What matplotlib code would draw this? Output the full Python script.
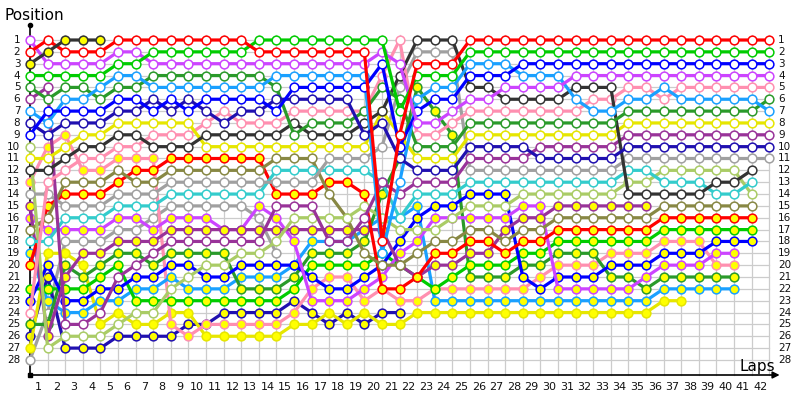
import matplotlib
matplotlib.use("Agg")
import matplotlib.pyplot as plt

# ---- data: position after each lap (lap 0 = grid) ----
red_h = [2,1,2,2,2,1,1,1,1,1,1,1,1,2,2,2,2,2,2,2,18,9,3,3,3] + [1]*18
green_h = [4,4,4,4,4,3,3,2,2,2,2,2,2,1,1,1,1,1,1,1,1,7,4,4,4] + [2]*18
violet_h = [1,3,3,3,3,2,2,3,3,3,3,3,3,3,3,3,3,3,3,3,2,3,8,8,7,6,6,5,5,5,5] + [4]*12
blue_h = [9,7,7,7,7,6,6,7,6,7,6,6,6,6,7,5,5,5,5,5,3,10,7,6,6,4,4,4] + [3]*15
navy_h = [8,9,8,8,8,7,7,6,7,6,7,8,7,7,6,6,6,6,6,9,8,11,12,12,12,10,10,10,10,11,11,11,11,11] + [10]*9
ltblue_h = [7,8,6,6,5,4,4,5,5,5,5,5,5,5,4,4,4,4,4,4,19,13,6,5,5,3,3,3,4,4,4,6,7,7,6,6,5,6,6,6,6,6,7]
dkgreen_h = [5,6,5,5,6,5,5,4,4,4,4,4,4,4,5,9,8,8,8,7,5,6,10,10,10] + [8]*9 + [7]*8 + [6]
black_h = [12,12,11,10,10,9,9,10,10,10,9,9,9,9,9,8,9,9,9,8,7,4,1,1,1,5,5,6,6,6,6,5,5,5,14,14,14,14,14,13,13,12]
yellow_h = [11,11,10,9,9,8,8,8,8,8] + [10]*10 + [7,9,11,11,11] + [9]*9 + [8]*9
pink_h = [24,13,12,11,11,10,10,9,9,9,8,7,8,8,8,7,7,7,7,7,4,1,9,9,8] + [7]*7 + [6,6,5,5,6] + [5]*6
purple_h = [6,5,25,25,24,21,20,19,18,18,18,18,18,18,15,15,15,18,18,16,13,14,13,13,13,11,11,11,11] + [10]*5 + [9]*9
gray2_h = [14,14,15,15,15,14,14,14,13,13,13,13,13,13,13,13,13,11,11,11,10,5,2,2,2] + [12]*9 + [11]*9
gray_h = [28,24,18,18,18,17,17,16,15,15,15,15,15,16,19]
cyan_h = [18,18,16,16,16,15,15,15,14,14,14,14,14,14,12,12,12,12,12,12,13,16,14,14,14] + [13]*9 + [12,12,13,13,13,14,14,13]
ltgreen_h = [10,27,26,26,26,25,24,24,22,21,20,20,19,19,18,16,16,16,16,15,16,17,17,17,16,15,15,15] + [14]*6 + [13,13] + [12]*5 + [14]
olive_h = [17,16,13,13,13,12,13,13,12,12,12,12,12,12,11,11,11,14,16,19,20,20,19,18,18,17,17,18,17,17] + [16]*6 + [15]*6

red_f = [20,15,14,14,14,13,12,12,11,11,11,11,11,11,14,14,14,13,13,14,22,22,21,19,19,18,18,19,18,18] + [17]*6 + [16]*6
green_f = [22,22,22,22,21,20,23,23,23,23,23,23,23,23,23,22,20,20,20,20,19,20,21,22,21,20,20,20,19,19] + [18]*6 + [17]*6
blue_f = [23,20,23,23,22,22,21,21,20,20,21,21,20,20,20,20,21,22,22,21,20,18,16,15,15,14,14,14,21,22,21,21,21,20,20,20,19,19,19,18,18,18]
violet_f = [16,17,17,17,17,16,16,17,16,16,16,17,17,15,16,18,23,23,23,22,21,19,18,16,16,16,16,16,15,15,22,22,22,22,22,21,20,20,20,19,19]
purple_f = [15,26,21,19,19,18,18,18,17,17,17,17,17,17,17,17,17,17,17,17,17,20,21,20,20,19,19,17,16,16,15,15,15,15,15,15]
navy_f = [26,21,27,27,27,26,26,26,26,25,25,24,24,24,24,23,24,25,24,25,24,24]
yellow_f = [27,19,19,20,25,24,25,25,24,24,26,26,26,26,26,25,25,24,25,24,25,25] + [24]*14 + [23,23]
pink_f = [13,10,9,12,12,11,11,11,25,26,25,25,25,25,25,24,22,21,21,23,22,23,23,22,22,22,22,22,22,21,20,20,20,19,19,19,18,18,18,20,20]
dkgreen_f = [25,25,20,21,20,19,19,20,19,19,19,19,22,22,22,21,19,19,19,18,14,11,5,7,9,21,21,21,20,20,19,19,19,21,21,22,21,21,21,21,21]
ltblue_f = [19,23,24,24,23,23,22,22,21,22,22,22,21,21,21,20,18,18,18,17,16,16,15] + [23]*13 + [22]*5
black_f = [3,2,1,1,1]

laps = list(range(1, 43))
positions = list(range(1, 29))

# (positions, colour, filled)
drivers = [
    (gray_h, "#a0a0a0", False), (navy_f, "#2010b0", True), (yellow_f, "#e6e600", True),
    (pink_f, "#ff8fb0", True), (ltblue_f, "#1aa0ff", True), (dkgreen_f, "#2a9a2a", True),
    (green_f, "#00cc00", True), (blue_f, "#0000ff", True), (violet_f, "#cc44ff", True),
    (purple_f, "#993399", True), (red_f, "#ff0000", True), (olive_h, "#888844", False),
    (ltgreen_h, "#aacc66", False), (cyan_h, "#33cccc", False), (gray2_h, "#a0a0a0", False),
    (purple_h, "#993399", False), (pink_h, "#ff8fb0", False), (yellow_h, "#e6e600", False),
    (black_h, "#333333", False), (dkgreen_h, "#2a9a2a", False), (ltblue_h, "#1aa0ff", False),
    (navy_h, "#2010b0", False), (blue_h, "#0000ff", False), (violet_h, "#cc44ff", False),
    (green_h, "#00cc00", False), (red_h, "#ff0000", False), (black_f, "#333333", True),
]

fig = plt.figure(figsize=(8, 4), dpi=100)
ax = fig.add_axes([30/800, 25/400, 739.2/800, 350/400])
ytop = 1 - 15/11.85
ybot = 1 + 335/11.85
ax.set_xlim(0, 42)
ax.set_ylim(ybot, ytop)
ax.axis("off")

# grid
for k in range(0, 43):
    ax.plot([k, k], [0.6, ybot], color="#cccccc", lw=0.9, zorder=1, clip_on=False)
for p in positions:
    ax.plot([0, 42], [p, p], color="#cccccc", lw=0.9, zorder=1, clip_on=False)

# axes with arrows
ax.plot([0, 0], [ybot, ytop], color="black", lw=1.2, zorder=2, clip_on=False)
ax.plot([0], [ytop], marker="o", color="black", ms=3, clip_on=False, zorder=2)
ax.plot([0], [ybot], marker="s", color="black", ms=2.5, clip_on=False, zorder=2)
ax.annotate("", xy=(42.75, ybot), xytext=(0, ybot),
            arrowprops=dict(arrowstyle="-|>", color="black", lw=1.2, mutation_scale=10),
            annotation_clip=False)

z = 3
for pos, col, filled in drivers:
    xs = list(range(len(pos)))
    ax.plot(xs, pos, color=col, lw=2.3, zorder=z, clip_on=False, solid_capstyle="round")
    ax.plot(xs, pos, ls="none", marker="o", ms=6.3, mec=col, mew=1.1,
            mfc="#ffff00" if filled else "white", zorder=z + 0.5, clip_on=False)
    z += 1

# labels
for p in positions:
    ax.text(-0.55, p, str(p), ha="right", va="center", fontsize=7.5, color="#111111")
    ax.text(42.5, p, str(p), ha="left", va="center", fontsize=7.5, color="#111111")
for k in laps:
    ax.text(k - 0.5, ybot + 1.05, str(k), ha="center", va="center", fontsize=8, color="#111111")

fig.text(5/800, 1 - 15/400, "Position", ha="left", va="center", fontsize=11)
fig.text(775/800, 1 - 366/400, "Laps", ha="right", va="center", fontsize=11)

fig.savefig("out.png", dpi=100)
